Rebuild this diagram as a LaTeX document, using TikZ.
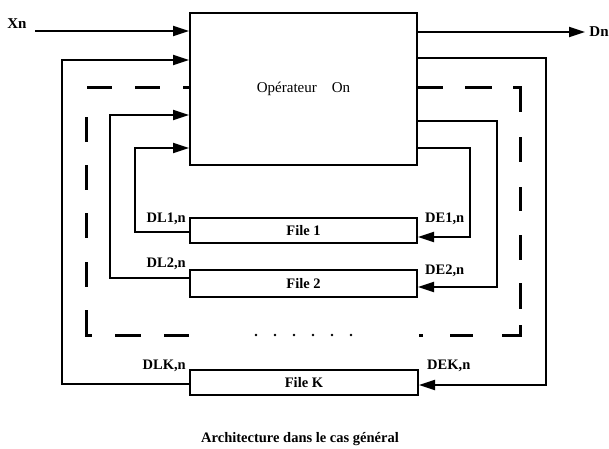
\documentclass[tikz,border=0pt]{standalone}
\usepackage{fontspec}
\setmainfont{Liberation Serif}
\usetikzlibrary{arrows.meta}
\begin{document}
\begin{tikzpicture}[x=1pt,y=-1pt,
  wire/.style={line width=2pt},
  arr/.style={line width=2pt,-{Triangle[length=16pt,width=10pt]}},
  box/.style={draw,line width=2pt,rectangle,inner sep=0pt},
  lbl/.style={font=\fontsize{14.5}{16}\selectfont\bfseries,inner sep=0pt},
  dsh/.style={line width=3pt}
]
\useasboundingbox (0,0) rectangle (609,448);

% operator
\node[box,minimum width=227pt,minimum height=152pt,font=\fontsize{15}{17}\selectfont] (op) at (303.5,89) {Opérateur\hspace{1em}On};

% files
\node[box,lbl,minimum width=227pt,minimum height=25pt] (f1) at (303.5,230.5) {File 1};
\node[box,lbl,minimum width=227pt,minimum height=27pt] (f2) at (303.5,283.5) {File 2};
\node[box,lbl,minimum width=228pt,minimum height=25pt] (fk) at (304,382.5) {File K};

% labels
\node[lbl,font=\fontsize{15}{17}\selectfont\bfseries] (xn) at (17,24) {Xn};
\node[lbl,font=\fontsize{15}{17}\selectfont\bfseries] (dn) at (599,32) {Dn};
\node[lbl,anchor=east] (dl1) at (186,219) {DL1,n};
\node[lbl,anchor=west] (de1) at (425,219) {DE1,n};
\node[lbl,anchor=east] (dl2) at (186,264) {DL2,n};
\node[lbl,anchor=west] (de2) at (425,271) {DE2,n};
\node[lbl,anchor=east] (dlk) at (186,366) {DLK,n};
\node[lbl,anchor=west] (dek) at (427,366) {DEK,n};
\node[lbl] (cap) at (300,439) {Architecture dans le cas général};

% input / output
\coordinate (xs) at (35,31);
\coordinate (de) at (585,32);
\draw[arr] (xs) -- (op.west |- 0,31);
\draw[arr] (op.east |- 0,32) -- (de);

% loop K
\draw[arr] (fk.west |- 0,384) -- (62,384) -- (62,60) -- (op.west |- 0,60);
\draw[arr] (op.east |- 0,58) -- (546,58) -- (546,385) -- (fk.east |- 0,385);
% loop 2
\draw[arr] (f2.west |- 0,278) -- (110,278) -- (110,115) -- (op.west |- 0,115);
\draw[arr] (op.east |- 0,121) -- (497,121) -- (497,287) -- (f2.east |- 0,287);
% loop 1
\draw[arr] (f1.west |- 0,232) -- (135,232) -- (135,148) -- (op.west |- 0,148);
\draw[arr] (op.east |- 0,148) -- (470,148) -- (470,237) -- (f1.east |- 0,237);

% dashed frame, left part
\draw[dsh] (87,87) -- (112,87);
\draw[dsh] (135,87) -- (160,87);
\draw[dsh] (183,87) -- (190,87);
\draw[dsh] (86,117) -- (86,142);
\draw[dsh] (86,165) -- (86,190);
\draw[dsh] (86,213) -- (86,238);
\draw[dsh] (86,262) -- (86,287);
\draw[dsh] (86,310) -- (86,335) -- (92,335);
\draw[dsh] (115,335) -- (141,335);
\draw[dsh] (164,335) -- (189,335);
% dashed frame, right part
\draw[dsh] (417,87) -- (443,87);
\draw[dsh] (465,87) -- (492,87);
\draw[dsh] (513,87) -- (520,87) -- (520,112);
\draw[dsh] (520,137) -- (520,162);
\draw[dsh] (520,187) -- (520,211);
\draw[dsh] (520,235) -- (520,260);
\draw[dsh] (520,283) -- (520,309);
\draw[dsh] (502,335) -- (520,335) -- (520,325);
\draw[dsh] (450,335) -- (473,335);
\draw[dsh] (419,335) -- (423,335);
% dots
\foreach \px in {256,275,294,313,332,351} \fill (\px,335) circle (1.3pt);
\end{tikzpicture}
\end{document}
